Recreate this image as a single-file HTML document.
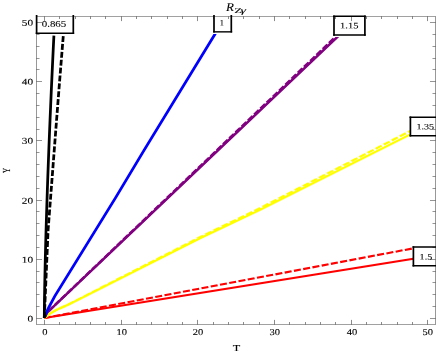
<!DOCTYPE html><html><head><meta charset="utf-8"><style>html,body{margin:0;padding:0;background:#fff;overflow:hidden;}svg{display:block;will-change:transform;}text{font-family:"Liberation Serif",serif;fill:#000;text-rendering:geometricPrecision;stroke:#000;stroke-width:0.1px;}</style></head><body>
<svg width="436" height="354" viewBox="0 0 436 354">
<rect width="436" height="354" fill="#fff"/>
<g transform="scale(1.2,1)">
<polyline points="36.92,318.00 344.50,258.70" fill="none" stroke="#ff0000" stroke-width="2.1"/>
<polyline points="36.92,318.00 344.50,248.30" fill="none" stroke="#ff0000" stroke-width="2.1" stroke-dasharray="5.9 2.0" stroke-dashoffset="0"/>
<polyline points="36.92,317.90 41.67,313.60 46.67,310.10 56.67,304.80 166.67,238.30 216.67,209.90 342.00,134.30" fill="none" stroke="#ffff00" stroke-width="2.1"/>
<polyline points="36.92,317.90 41.67,313.59 46.67,310.06 56.67,304.70 166.67,237.18 216.67,208.19 342.00,130.90" fill="none" stroke="#ffff00" stroke-width="2.1" stroke-dasharray="5.9 2.0" stroke-dashoffset="0"/>
<clipPath id="cp"><rect x="0" y="37.0" width="400" height="300"/></clipPath><g clip-path="url(#cp)">
<polyline points="36.92,317.90 38.90,313.00 283.74,34.00" fill="none" stroke="#800080" stroke-width="2.3"/>
<polyline points="36.92,317.90 38.89,312.98 282.94,33.04" fill="none" stroke="#800080" stroke-width="2.3" stroke-dasharray="5.9 2.0" stroke-dashoffset="0"/>
</g>
<clipPath id="cb"><rect x="0" y="34.0" width="400" height="300"/></clipPath><g clip-path="url(#cb)">
<polyline points="36.92,317.90 38.50,313.00 40.83,307.00 45.75,296.00 96.17,198.00 120.17,150.00 179.00,34.40 180.25,32.00" fill="none" stroke="#0000ff" stroke-width="2.4"/>
</g>
<polyline points="36.92,318.00 37.02,303.88 37.20,289.76 37.43,275.64 37.69,261.52 37.99,247.40 38.31,233.28 38.66,219.16 39.04,205.04 39.43,190.92 39.84,176.80 40.28,162.68 40.73,148.56 41.20,134.44 41.69,120.32 42.19,106.20 42.70,92.08 43.24,77.96 43.78,63.84 44.34,49.72 44.92,35.60" fill="none" stroke="#000" stroke-width="2.3"/>
<polyline points="36.92,318.00 40.08,230.00 46.50,130.00 49.75,80.00 52.75,35.60" fill="none" stroke="#000" stroke-width="2.3" stroke-dasharray="5.9 2.0" stroke-dashoffset="0"/>
</g>
<rect x="36.60" y="15.0" width="36.70" height="18.299999999999997" fill="#fff" stroke="none"/>
<path d="M35.75 33.3H74.15" fill="none" stroke="#000" stroke-width="1.4"/>
<path d="M36.60 15.0V34.0M73.30 15.0V34.0" fill="none" stroke="#000" stroke-width="1.7"/>
<rect x="214.00" y="15.0" width="17.30" height="16.85" fill="#fff" stroke="none"/>
<path d="M213.15 31.85H232.15" fill="none" stroke="#000" stroke-width="1.4"/>
<path d="M214.00 15.0V32.550000000000004M231.30 15.0V32.550000000000004" fill="none" stroke="#000" stroke-width="1.7"/>
<rect x="334.00" y="16.2" width="30.90" height="18.8" fill="#fff" stroke="none"/>
<path d="M333.15 35.0H365.75M333.15 16.2H365.75" fill="none" stroke="#000" stroke-width="1.4"/>
<path d="M334.00 15.5V35.7M364.90 15.5V35.7" fill="none" stroke="#000" stroke-width="1.7"/>
<rect x="410.40" y="117.3" width="31.60" height="18.39999999999999" fill="#fff" stroke="none"/>
<path d="M409.55 135.7H442.85M409.55 117.3H442.85" fill="none" stroke="#000" stroke-width="1.4"/>
<path d="M410.40 116.6V136.39999999999998M442.00 116.6V136.39999999999998" fill="none" stroke="#000" stroke-width="1.7"/>
<rect x="413.40" y="247.0" width="28.60" height="18.80000000000001" fill="#fff" stroke="none"/>
<path d="M412.55 265.8H442.85M412.55 247.0H442.85" fill="none" stroke="#000" stroke-width="1.4"/>
<path d="M413.40 246.3V266.5M442.00 246.3V266.5" fill="none" stroke="#000" stroke-width="1.7"/>
<g transform="scale(1.2,1)">
<path d="M37.083 324.50v-4.6M37.083 16.50v4.6M49.583 324.50v-2.5M49.583 16.50v2.5M62.917 324.50v-2.5M62.917 16.50v2.5M75.417 324.50v-2.5M75.417 16.50v2.5M87.917 324.50v-2.5M87.917 16.50v2.5M101.250 324.50v-4.6M101.250 16.50v4.6M113.750 324.50v-2.5M113.750 16.50v2.5M126.250 324.50v-2.5M126.250 16.50v2.5M139.583 324.50v-2.5M139.583 16.50v2.5M152.083 324.50v-2.5M152.083 16.50v2.5M164.583 324.50v-4.6M164.583 16.50v4.6M177.917 324.50v-2.5M177.917 16.50v2.5M190.417 324.50v-2.5M190.417 16.50v2.5M202.917 324.50v-2.5M202.917 16.50v2.5M216.250 324.50v-2.5M216.250 16.50v2.5M228.750 324.50v-4.6M228.750 16.50v4.6M241.250 324.50v-2.5M241.250 16.50v2.5M254.583 324.50v-2.5M254.583 16.50v2.5M267.083 324.50v-2.5M267.083 16.50v2.5M279.583 324.50v-2.5M279.583 16.50v2.5M292.917 324.50v-4.6M292.917 16.50v4.6M305.417 324.50v-2.5M305.417 16.50v2.5M317.917 324.50v-2.5M317.917 16.50v2.5M331.250 324.50v-2.5M331.250 16.50v2.5M343.750 324.50v-2.5M343.750 16.50v2.5M356.250 324.50v-4.6M356.250 16.50v4.6" stroke="#000" stroke-width="0.42" fill="none"/>
<path d="M30.417 318.50h4.6M362.917 318.50h-4.6M30.417 306.50h2.5M362.917 306.50h-2.5M30.417 294.50h2.5M362.917 294.50h-2.5M30.417 282.50h2.5M362.917 282.50h-2.5M30.417 271.50h2.5M362.917 271.50h-2.5M30.417 259.50h4.6M362.917 259.50h-4.6M30.417 247.50h2.5M362.917 247.50h-2.5M30.417 235.50h2.5M362.917 235.50h-2.5M30.417 223.50h2.5M362.917 223.50h-2.5M30.417 211.50h2.5M362.917 211.50h-2.5M30.417 200.50h4.6M362.917 200.50h-4.6M30.417 188.50h2.5M362.917 188.50h-2.5M30.417 176.50h2.5M362.917 176.50h-2.5M30.417 164.50h2.5M362.917 164.50h-2.5M30.417 152.50h2.5M362.917 152.50h-2.5M30.417 140.50h4.6M362.917 140.50h-4.6M30.417 129.50h2.5M362.917 129.50h-2.5M30.417 117.50h2.5M362.917 117.50h-2.5M30.417 105.50h2.5M362.917 105.50h-2.5M30.417 93.50h2.5M362.917 93.50h-2.5M30.417 81.50h4.6M362.917 81.50h-4.6M30.417 69.50h2.5M362.917 69.50h-2.5M30.417 58.50h2.5M362.917 58.50h-2.5M30.417 46.50h2.5M362.917 46.50h-2.5M30.417 34.50h2.5M362.917 34.50h-2.5M30.417 22.50h4.6M362.917 22.50h-4.6" stroke="#000" stroke-width="0.38" fill="none"/>
<path d="M30.417 16.5H362.917M30.417 324.5H362.917" fill="none" stroke="#000" stroke-width="0.34"/>
<path d="M30.417 16.3V324.7M362.917 16.3V324.7" fill="none" stroke="#000" stroke-width="0.37"/>
</g>
<text transform="translate(41.76,26.80) rotate(0.03) scale(1.265,1)" font-size="8.6">0.865</text>
<text transform="translate(219.87,25.50) rotate(0.03) scale(1.000,1)" font-size="8.4">1</text>
<text transform="translate(340.06,28.30) rotate(0.03) scale(1.249,1)" font-size="8.4">1.15</text>
<text transform="translate(416.39,129.30) rotate(0.03) scale(1.258,1)" font-size="8.0">1.35</text>
<text transform="translate(419.59,259.40) rotate(0.03) scale(1.230,1)" font-size="8.2">1.5</text>
<text transform="translate(42.27,334.90) rotate(0.03) scale(1.180,1)" font-size="8.9">0</text>
<text transform="translate(27.40,321.80) rotate(0.03) scale(1.270,1)" font-size="8.9">0</text>
<text transform="translate(116.39,334.90) rotate(0.03) scale(1.180,1)" font-size="8.9">10</text>
<text transform="translate(21.75,262.80) rotate(0.03) scale(1.270,1)" font-size="8.9">10</text>
<text transform="translate(192.65,334.90) rotate(0.03) scale(1.180,1)" font-size="8.9">20</text>
<text transform="translate(21.75,203.80) rotate(0.03) scale(1.270,1)" font-size="8.9">20</text>
<text transform="translate(269.60,334.90) rotate(0.03) scale(1.180,1)" font-size="8.9">30</text>
<text transform="translate(21.75,143.80) rotate(0.03) scale(1.270,1)" font-size="8.9">30</text>
<text transform="translate(346.75,334.90) rotate(0.03) scale(1.180,1)" font-size="8.9">40</text>
<text transform="translate(21.75,84.80) rotate(0.03) scale(1.270,1)" font-size="8.9">40</text>
<text transform="translate(422.54,334.90) rotate(0.03) scale(1.180,1)" font-size="8.9">50</text>
<text transform="translate(21.75,25.80) rotate(0.03) scale(1.270,1)" font-size="8.9">50</text>
<text transform="translate(232.75,350.90) rotate(0.03) scale(1.335,1)" font-size="9.2">T</text>
<text transform="translate(9.75,173.0) rotate(-90) scale(0.79,1.17)" font-size="9.2">Y</text>
<text transform="translate(226.00,10.80) scale(1.1,1)" font-size="11.8" text-anchor="start" font-style="italic">R</text>
<text transform="translate(234.30,12.50) scale(1.75,1)" font-size="7.3" text-anchor="start">Z</text>
<text transform="translate(240.40,12.90) scale(1.7,1)" font-size="8.2" text-anchor="start" font-style="italic">γ</text>
</svg></body></html>
